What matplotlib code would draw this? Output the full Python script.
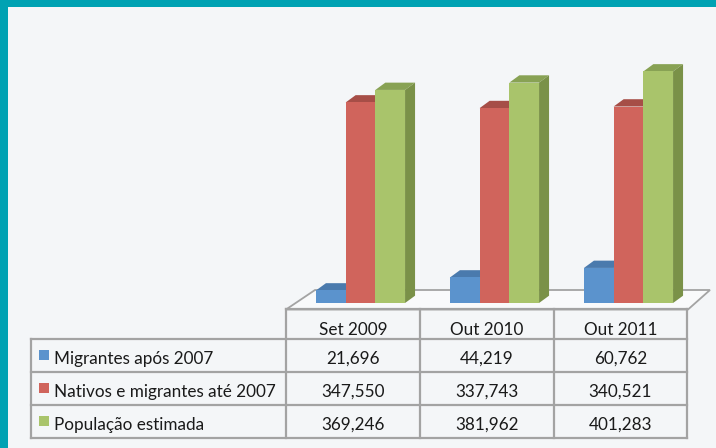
import matplotlib
matplotlib.use("Agg")
import matplotlib.pyplot as plt
from matplotlib.patches import Polygon, Rectangle

# ---- data ----
periods = ["Set 2009", "Out 2010", "Out 2011"]
series_names = ["Migrantes após 2007", "Nativos e migrantes até 2007", "População estimada"]
migrantes = [21696, 44219, 60762]
nativos = [347550, 337743, 340521]
populacao = [369246, 381962, 401283]

# ---- styling ----
front_cols = ["#5B93CD", "#D0645C", "#A9C46B"]
top_cols = ["#4A7AAD", "#A64E47", "#88A254"]
side_cols = ["#3F6A98", "#8E413B", "#7A9148"]
bg = "#F4F6F8"
teal = "#00A2B3"
grid_col = "#A3A3A3"
txt_col = "#1A1A1A"
plt.rcParams['font.family'] = ['Lato', 'DejaVu Sans']

W, H = 716, 448
fig = plt.figure(figsize=(W / 100, H / 100), dpi=100)
fig.patch.set_facecolor(bg)

# ---- bar axes (pixel layout: baseline at y=303, 1733 units per px, 134 px per group)
px_per_group = 134.0
val_per_px = 1733.0
base_px = 303.0
center0_px = 360.5
ax_left_px, ax_right_px, ax_top_px, ax_bot_px = 280, 716, 0, 320
ax = fig.add_axes([ax_left_px / W, 1 - ax_bot_px / H,
                   (ax_right_px - ax_left_px) / W, (ax_bot_px - ax_top_px) / H])
ax.set_xlim((ax_left_px - center0_px) / px_per_group, (ax_right_px - center0_px) / px_per_group)
ax.set_ylim(-(ax_bot_px - base_px) * val_per_px, (base_px - ax_top_px) * val_per_px)
ax.axis("off")
ax.patch.set_alpha(0)

bw = 29.7 / px_per_group
dx = 10.0 / px_per_group
dy = 7.3 * val_per_px

# floor (layout)
def p2d(px, py):
    return ((px - center0_px) / px_per_group, (base_px - py) * val_per_px)

floor = Polygon([p2d(286, 309.5), p2d(315, 290), p2d(710, 290), p2d(688, 309.5)],
                closed=True, facecolor="#F9FAFB", edgecolor=grid_col, lw=1.3, zorder=1)
ax.add_patch(floor)

all_series = [migrantes, nativos, populacao]
z = 2
for gi in range(len(periods)):
    for si, vals in enumerate(all_series):
        x0 = gi + (si - 1.5) * bw
        v = vals[gi]
        ax.bar(x0, v, width=bw, align="edge", color=front_cols[si], edgecolor="none", zorder=z + 1)
        top = Polygon([(x0, v), (x0 + dx, v + dy), (x0 + bw + dx, v + dy), (x0 + bw, v)],
                      closed=True, facecolor=top_cols[si], edgecolor="none", zorder=z)
        side = Polygon([(x0 + bw, 0), (x0 + bw + dx, dy), (x0 + bw + dx, v + dy), (x0 + bw, v)],
                       closed=True, facecolor=side_cols[si], edgecolor="none", zorder=z)
        ax.add_patch(top)
        ax.add_patch(side)
        z += 2

# ---- overlay (table + frame) in pixel coordinates
ov = fig.add_axes([0, 0, 1, 1])
ov.set_xlim(0, W)
ov.set_ylim(H, 0)
ov.axis("off")
ov.patch.set_alpha(0)

# frame
ov.add_patch(Rectangle((0, 0), W, 7.5, facecolor=teal, edgecolor="none", zorder=10))
ov.add_patch(Rectangle((0, 0), 8, H, facecolor=teal, edgecolor="none", zorder=10))

col_x = [286, 420, 554, 687]
left_x = 31
head_top = 309.5
row_y = [339, 372, 405.5, 438]

lw = 1.6
ov.plot([col_x[0], col_x[-1]], [head_top, head_top], color=grid_col, lw=lw, solid_capstyle="projecting")
for y in row_y:
    ov.plot([left_x, col_x[-1]], [y, y], color=grid_col, lw=lw, solid_capstyle="projecting")
ov.plot([left_x, left_x], [row_y[0], row_y[-1]], color=grid_col, lw=lw, solid_capstyle="projecting")
for x in col_x:
    ov.plot([x, x], [head_top, row_y[-1]], color=grid_col, lw=lw, solid_capstyle="projecting")

fs = 12.3
header_base = 335
row_base = [364, 397, 430]
for ci, p in enumerate(periods):
    cx = (col_x[ci] + col_x[ci + 1]) / 2
    ov.text(cx, header_base, p, ha="center", va="baseline", fontsize=fs, color=txt_col)

for ri, (name, vals) in enumerate(zip(series_names, all_series)):
    b = row_base[ri]
    ov.add_patch(Rectangle((39, b - 14), 10, 10, facecolor=front_cols[ri], edgecolor="none"))
    ov.text(54, b, name, ha="left", va="baseline", fontsize=fs, color=txt_col)
    for ci, v in enumerate(vals):
        cx = (col_x[ci] + col_x[ci + 1]) / 2
        ov.text(cx, b, f"{v:,}", ha="center", va="baseline", fontsize=fs, color=txt_col)

fig.savefig("out.png", dpi=100, facecolor=bg)
